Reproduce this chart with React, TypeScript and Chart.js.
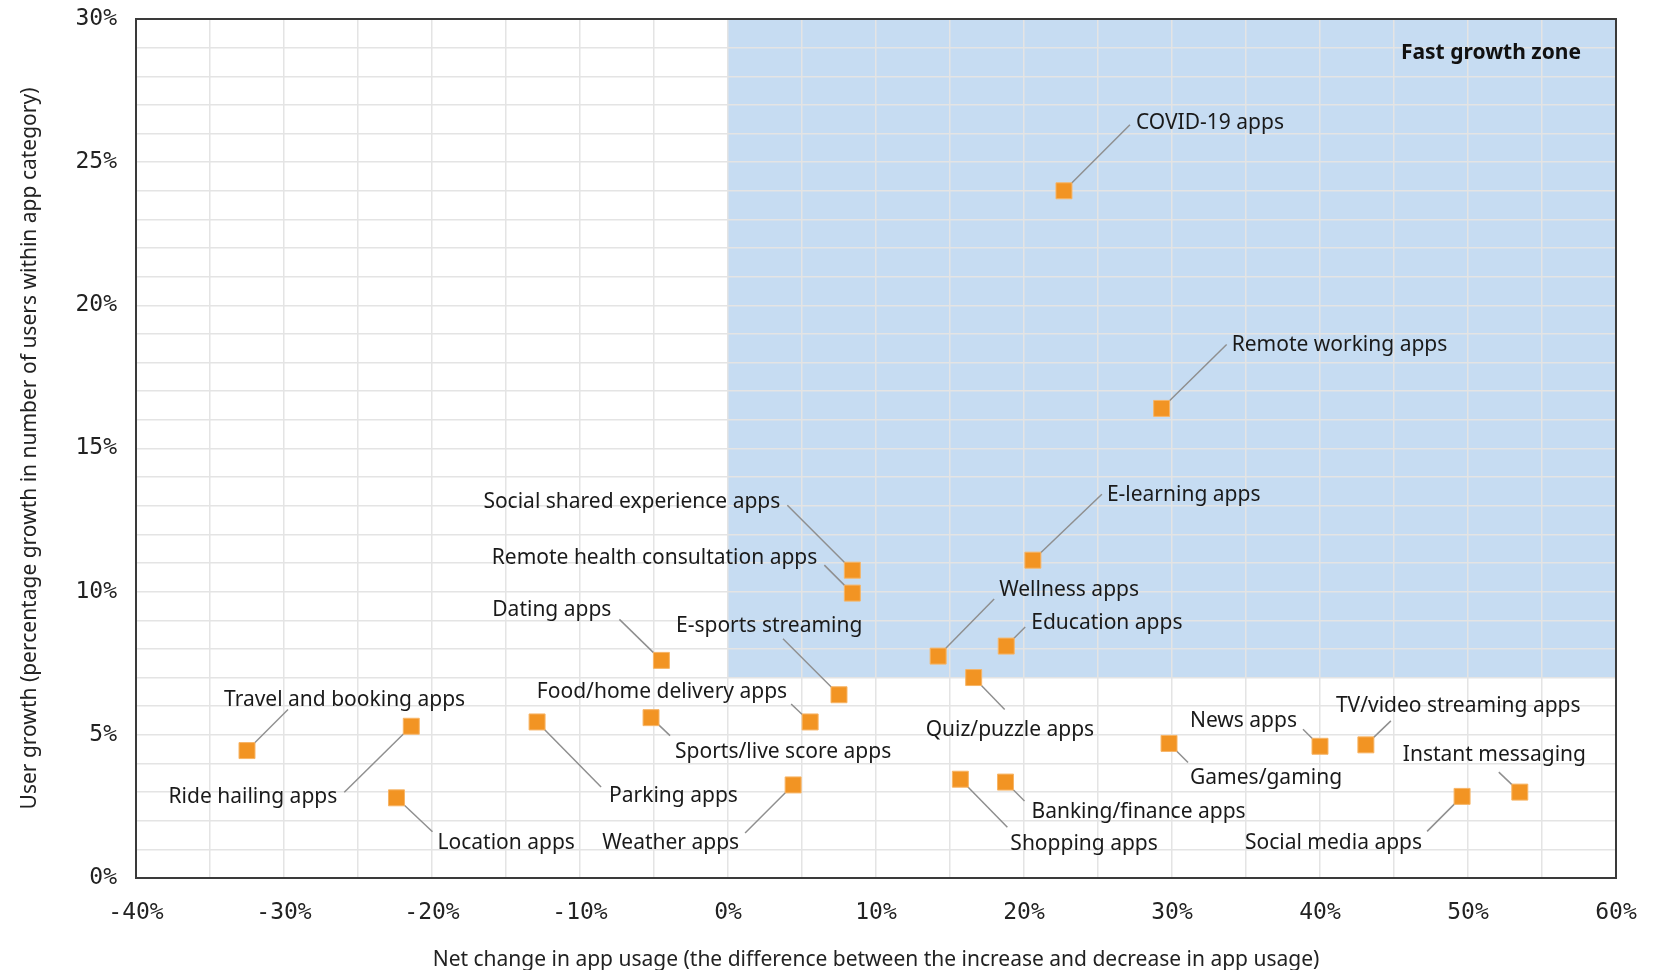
import React, { useEffect, useRef } from 'react';
import { Chart, registerables } from 'chart.js';

Chart.register(...registerables);

// ---- data ----
const categories = [
  'COVID-19 apps',
  'Remote working apps',
  'E-learning apps',
  'Social shared experience apps',
  'Remote health consultation apps',
  'Dating apps',
  'E-sports streaming',
  'Wellness apps',
  'Education apps',
  'Quiz/puzzle apps',
  'Food/home delivery apps',
  'Sports/live score apps',
  'Parking apps',
  'Travel and booking apps',
  'Ride hailing apps',
  'Location apps',
  'Weather apps',
  'Shopping apps',
  'Banking/finance apps',
  'Games/gaming',
  'News apps',
  'TV/video streaming apps',
  'Social media apps',
  'Instant messaging',
];

// Net change in app usage (%)
const usageChange = [
  22.7, 29.3, 20.6, 8.4, 8.4, -4.5, 7.5, 14.2, 18.8, 16.6, 5.55, -5.2,
  -12.9, -32.5, -21.4, -22.4, 4.4, 15.7, 18.75, 29.8, 40.0, 43.1, 49.6, 53.5,
];

// User growth (%)
const userGrowth = [
  24.0, 16.4, 11.1, 10.75, 9.95, 7.6, 6.4, 7.75, 8.1, 7.0, 5.45, 5.6,
  5.45, 4.45, 5.3, 2.8, 3.25, 3.45, 3.35, 4.7, 4.6, 4.65, 2.85, 3.0,
];

// axis ranges and fast-growth zone bounds (in data units)
const xRange = [-40, 60];
const yRange = [0, 30];
const zoneMinX = 0;
const zoneMinY = 7;
const zoneTitle = 'Fast growth zone';
const xTitle = 'Net change in app usage (the difference between the increase and decrease in app usage)';
const yTitle = 'User growth (percentage growth in number of users within app category)';

// ---- label layout (pixel offsets from each point: text dx, dy, align, leader end dx, dy) ----
type Align = 'left' | 'right' | 'center';
const labelLayout: [number, number, Align, number, number][] = [
  [72, -70, 'left', 66, -66],
  [70, -66, 'left', 65, -64],
  [74, -68, 'left', 69, -66],
  [-72, -71, 'right', -65, -65],
  [-35, -38, 'right', -28, -28],
  [-50, -53, 'right', -42, -41],
  [-163, -71, 'left', -56, -56],
  [61, -69, 'left', 56, -57],
  [25, -26, 'left', 19, -19],
  [-48, 50, 'left', 31, 32],
  [-23, -32, 'right', -19, -18],
  [24, 32, 'left', 19, 18],
  [72, 72, 'left', 64, 65],
  [-23, -53, 'left', 41, -41],
  [-74, 68, 'right', -67, 66],
  [41, 43, 'left', 36, 34],
  [-54, 56, 'right', -48, 48],
  [50, 62, 'left', 47, 48],
  [26, 27, 'left', 19, 19],
  [21, 32, 'left', 19, 19],
  [-23, -28, 'right', -17, -17],
  [-30, -41, 'left', 25, -24],
  [-40, 44, 'right', -35, 35],
  [-117, -40, 'left', -21, -20],
];

const LABEL_FONT = '21px "Noto Sans", sans-serif';
const LABEL_BASELINE_SHIFT = 2.5;
const ORANGE = '#F29423';
const ZONE_BLUE = '#c6dcf2';

const zonePlugin = {
  id: 'zone',
  beforeDraw(chart: any) {
    const { ctx, chartArea, scales } = chart;
    const x0 = scales.x.getPixelForValue(zoneMinX);
    const y0 = scales.y.getPixelForValue(zoneMinY);
    ctx.save();
    ctx.fillStyle = ZONE_BLUE;
    ctx.fillRect(x0, chartArea.top, chartArea.right - x0, y0 - chartArea.top);
    ctx.restore();
  },
};

const labelPlugin = {
  id: 'pointLabels',
  beforeDatasetsDraw(chart: any) {
    const { ctx } = chart;
    const meta = chart.getDatasetMeta(0);
    ctx.save();
    ctx.strokeStyle = '#8f8f8f';
    ctx.lineWidth = 1.5;
    meta.data.forEach((pt: any, i: number) => {
      const l = labelLayout[i];
      ctx.beginPath();
      ctx.moveTo(pt.x, pt.y);
      ctx.lineTo(pt.x + l[3], pt.y + l[4]);
      ctx.stroke();
    });
    ctx.restore();
  },
  afterDatasetsDraw(chart: any) {
    const { ctx, chartArea } = chart;
    const meta = chart.getDatasetMeta(0);
    ctx.save();
    ctx.font = LABEL_FONT;
    ctx.fillStyle = '#1a1a1a';
    ctx.textBaseline = 'middle';
    meta.data.forEach((pt: any, i: number) => {
      const l = labelLayout[i];
      ctx.textAlign = l[2];
      ctx.fillText(categories[i], pt.x + l[0], pt.y + l[1] + LABEL_BASELINE_SHIFT);
    });
    ctx.font = 'bold 21px "Noto Sans", sans-serif';
    ctx.textAlign = 'right';
    ctx.fillStyle = '#111';
    ctx.fillText(zoneTitle, chartArea.right - 35, chartArea.top + 34);
    ctx.restore();
  },
  afterDraw(chart: any) {
    const { ctx, chartArea } = chart;
    ctx.save();
    ctx.strokeStyle = '#3a3a3a';
    ctx.lineWidth = 2;
    ctx.strokeRect(chartArea.left, chartArea.top, chartArea.right - chartArea.left, chartArea.bottom - chartArea.top);
    ctx.restore();
  },
};

export default function App() {
  const canvasRef = useRef<HTMLCanvasElement | null>(null);

  useEffect(() => {
    if (!canvasRef.current) return;
    const points = usageChange.map((x, i) => ({ x, y: userGrowth[i] }));
    const chart = new Chart(canvasRef.current, {
      type: 'scatter',
      data: {
        datasets: [
          {
            label: 'Apps',
            data: points,
            pointStyle: 'rect',
            radius: 11.3,
            backgroundColor: ORANGE,
            borderColor: '#f7b567',
            borderWidth: 1,
          },
        ],
      },
      options: {
        animation: false,
        responsive: true,
        maintainAspectRatio: false,
        layout: { padding: { top: 19, right: 44, left: 0, bottom: 0 } },
        plugins: {
          legend: { display: false },
          tooltip: { enabled: false },
        },
        scales: {
          x: {
            type: 'linear',
            min: xRange[0],
            max: xRange[1],
            afterFit: (s: any) => {
              s.height = 92;
              s.paddingLeft = 0;
              s.paddingRight = 0;
            },
            border: { display: false },
            grid: { color: '#e4e4e4', lineWidth: 1.5, drawTicks: false },
            ticks: {
              stepSize: 5,
              maxTicksLimit: 50,
              autoSkip: false,
              maxRotation: 0,
              padding: 21,
              color: '#222',
              font: { family: '"DejaVu Sans Mono", monospace', size: 23 },
              callback: (v: any) => (Number(v) % 10 === 0 ? `${v}%` : ''),
            },
            title: {
              display: true,
              text: xTitle,
              color: '#222',
              font: { family: '"Noto Sans", sans-serif', size: 21, lineHeight: 1.0 },
              padding: { top: 0, bottom: -1 },
            },
          },
          y: {
            type: 'linear',
            min: yRange[0],
            max: yRange[1],
            afterFit: (s: any) => {
              s.width = 136;
              s.paddingTop = 0;
              s.paddingBottom = 0;
            },
            border: { display: false },
            grid: { color: '#e4e4e4', lineWidth: 1.5, drawTicks: false },
            ticks: {
              stepSize: 1,
              maxTicksLimit: 50,
              autoSkip: false,
              padding: 19,
              color: '#222',
              font: { family: '"DejaVu Sans Mono", monospace', size: 23 },
              callback: (v: any) => (Number(v) % 5 === 0 ? `${v}%` : ''),
            },
            title: {
              display: true,
              text: yTitle,
              color: '#222',
              font: { family: '"Noto Sans", sans-serif', size: 21, lineHeight: 1.2 },
              padding: { top: 17, bottom: 0 },
            },
          },
        },
      },
      plugins: [zonePlugin, labelPlugin],
    });
    return () => chart.destroy();
  }, []);

  return (
    <div style={{ position: 'absolute', left: 0, top: 0, width: 1660, height: 970, background: '#fff' }}>
      <canvas ref={canvasRef} />
    </div>
  );
}
